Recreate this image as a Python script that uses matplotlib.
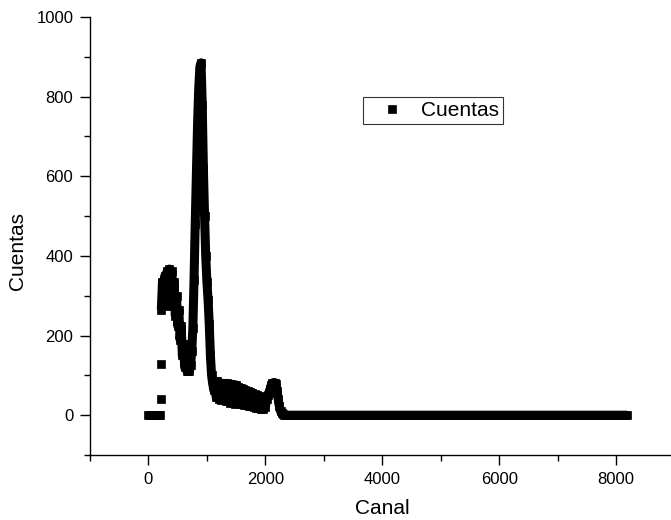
import matplotlib
matplotlib.use("Agg")
import matplotlib.pyplot as plt
from matplotlib.ticker import MultipleLocator

plt.rcParams['font.family'] = ['Liberation Sans', 'DejaVu Sans']

# canales iniciales (por debajo del umbral)
canal_inicio = [0, 20, 40, 60, 80, 100, 120, 140, 160, 180, 200]
cuentas_inicio = [0, 0, 0, 0, 0, 0, 0, 0, 0, 0, 0]

# dos puntos sueltos en el umbral
canal_umbral = [208, 214]
cuentas_umbral = [40, 128]

# zona con picos, cada 20 canales (de 220 a 2300)
canal_pico = list(range(220, 2301, 20))
cuentas_pico = [
    265, 335, 300, 350, 275, 362, 290, 367, 300, 362,   # 220-400
    275, 335, 250, 300, 225, 265, 190, 225, 150, 180,   # 420-600
    120, 140, 110, 112, 110, 125, 160, 220, 340, 480,   # 620-800
    600, 730, 820, 875, 885, 780, 620, 500, 400, 335,   # 820-1000
    290, 230, 150, 100, 78, 62, 80, 45, 85, 40,         # 1020-1200
    82, 38, 80, 45, 78, 35, 80, 40, 76, 30,             # 1220-1400
    78, 35, 74, 28, 76, 32, 70, 28, 68, 30,             # 1420-1600
    66, 25, 62, 26, 60, 22, 58, 22, 56, 20,             # 1620-1800
    52, 18, 50, 18, 48, 16, 45, 16, 44, 20,             # 1820-2000
    40, 50, 55, 65, 75, 80, 82, 82, 78, 60,             # 2020-2200
    40, 22, 10, 5, 2,                                   # 2220-2300
]

# cola plana hasta el canal 8191
canal_cola = list(range(2320, 8192, 40)) + [8191]
cuentas_cola = [0] * len(canal_cola)

canal_cont = canal_pico + canal_cola
cuentas_cont = cuentas_pico + cuentas_cola

fig = plt.figure(figsize=(6.71, 5.2), dpi=100)
ax = fig.add_axes([90 / 671, 65 / 520, 584.5 / 671, 438 / 520])

# los canales son tan densos que los cuadrados forman una banda continua
ax.plot(canal_inicio, cuentas_inicio, color='black', linewidth=6.5,
        solid_capstyle='butt')
ax.plot(canal_cont, cuentas_cont, color='black', linewidth=6.5,
        solid_capstyle='butt', solid_joinstyle='round')
ax.plot(canal_inicio + canal_umbral + canal_cont,
        cuentas_inicio + cuentas_umbral + cuentas_cont,
        linestyle='none', marker='s', markersize=6.2,
        markeredgewidth=0.5, color='black', label='Cuentas')

ax.set_xlim(-1000, 9000)
ax.set_ylim(-100, 1000)
ax.set_xticks([0, 2000, 4000, 6000, 8000])
ax.set_yticks([0, 200, 400, 600, 800, 1000])
ax.xaxis.set_minor_locator(MultipleLocator(1000))
ax.yaxis.set_minor_locator(MultipleLocator(100))

for s in ['top', 'right']:
    ax.spines[s].set_visible(False)
for s in ['left', 'bottom']:
    ax.spines[s].set_linewidth(1.0)

ax.tick_params(which='major', direction='out', length=7, width=1.0,
               labelsize=12, pad=5)
ax.tick_params(which='minor', direction='out', length=4, width=1.0)

ax.set_xlabel('Canal', fontsize=15)
ax.set_ylabel('Cuentas', fontsize=15)
ax.xaxis.set_label_coords(0.5, -0.10)
ax.yaxis.set_label_coords(-0.108, 0.466)

leg = ax.legend(loc='upper left', bbox_to_anchor=(0.467, 0.817),
                fontsize=15, frameon=True, fancybox=False, borderpad=0.2,
                handlelength=2.4, handletextpad=0.2, borderaxespad=0)
leg.get_frame().set_edgecolor('black')
leg.get_frame().set_linewidth(0.8)

fig.savefig('out.png', dpi=100)
